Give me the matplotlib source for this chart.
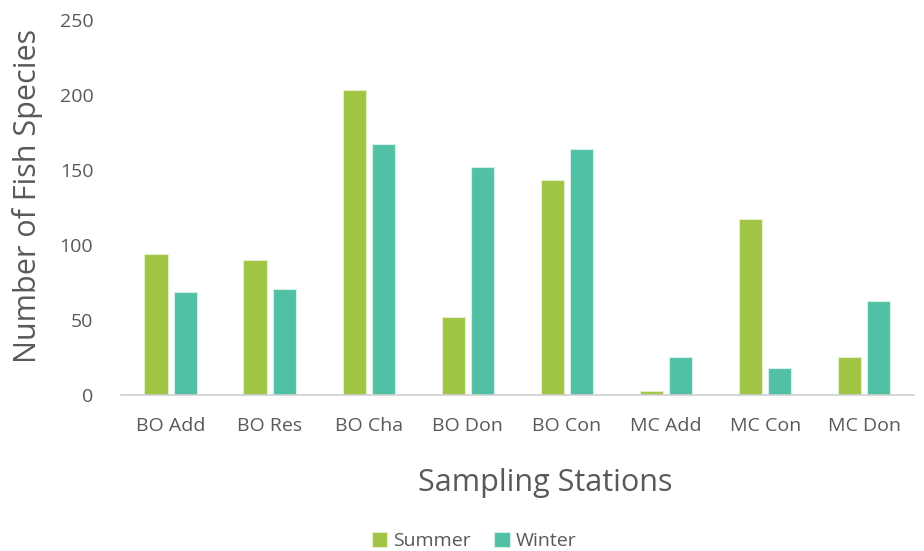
import numpy as np
import matplotlib.pyplot as plt

plt.rcParams['font.family'] = ['Open Sans', 'DejaVu Sans']

stations = ['BO Add', 'BO Res', 'BO Cha', 'BO Don', 'BO Con', 'MC Add', 'MC Con', 'MC Don']
summer = [94, 90, 203, 52, 143, 2.5, 117, 25.5]
winter = [69, 71, 167, 152, 164, 25.5, 18, 63]

green = '#A0C544'
teal = '#52C0A4'
grey = '#595959'

fig = plt.figure(figsize=(9.24, 5.51), dpi=100)
ax = fig.add_axes([0.131, 0.283, 0.858, 0.681])

x = np.arange(len(stations))
w = 0.235
ax.bar(x - 0.147, summer, w, color=green, edgecolor='#E4F0C8', linewidth=0.8, label='Summer')
ax.bar(x + 0.147, winter, w, color=teal, edgecolor='#D2F0E8', linewidth=0.8, label='Winter')

ax.set_xlim(-0.5, len(stations) - 0.5)
ax.set_ylim(0, 250)
ax.set_yticks(range(0, 251, 50))
ax.set_xticks(x)
ax.set_xticklabels(stations)

for s in ['top', 'right', 'left']:
    ax.spines[s].set_visible(False)
ax.spines['bottom'].set_color('#D0D0D0')
ax.spines['bottom'].set_linewidth(1.2)
ax.tick_params(axis='both', length=0, labelsize=14, labelcolor=grey)
ax.tick_params(axis='x', pad=16)
ax.tick_params(axis='y', pad=20)

ax.set_ylabel('Number of Fish Species', fontsize=22, color=grey)
ax.set_xlabel('Sampling Stations', fontsize=22, color=grey)
ax.yaxis.set_label_coords(-0.098, 0.531)
ax.xaxis.set_label_coords(0.535, -0.195)

fig.legend(loc='lower center', bbox_to_anchor=(0.513, -0.03), ncol=2, frameon=False,
           fontsize=14, labelcolor=grey, handlelength=0.8, handleheight=0.8,
           handletextpad=0.3, columnspacing=1.2)

fig.savefig('out.png', dpi=100)
